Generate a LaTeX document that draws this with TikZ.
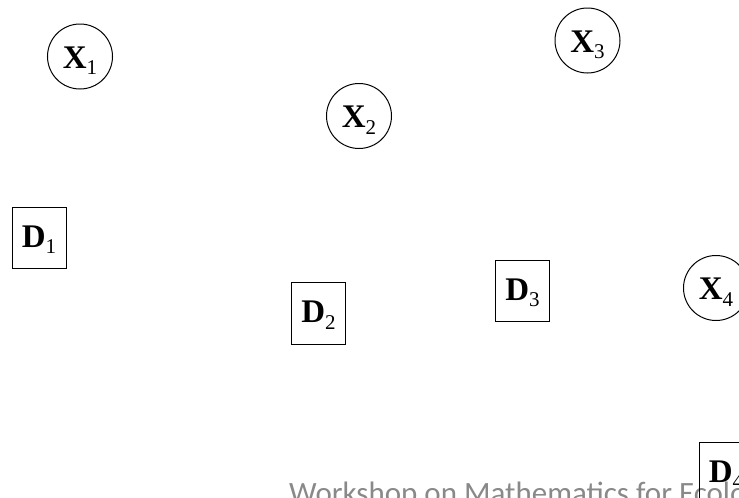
\documentclass[tikz,border=0pt]{standalone}
\usepackage{fontspec}
\setmainfont{Liberation Serif}
\newfontfamily\footfont{Carlito}
\definecolor{footgray}{RGB}{137,137,137}
\newcommand{\varlbl}[2]{\bfseries\fontsize{33}{33}\selectfont #1\raisebox{-6.5pt}{\mdseries\fontsize{21}{21}\selectfont #2}}
\begin{document}
\begin{tikzpicture}[x=1pt,y=-1pt,
  circnode/.style={draw=black,line width=1pt,circle,minimum size=65pt,inner sep=0pt,text depth=0pt,text height=23pt},
  boxnode/.style={draw=black,line width=1pt,rectangle,minimum width=54pt,minimum height=61.5pt,inner sep=0pt,text depth=0pt,text height=18pt},
  foot/.style={anchor=base west,inner sep=0pt,text=footgray,font=\footfont\fontsize{31}{31}\selectfont}]
\useasboundingbox (0,0) rectangle (739,498);
\clip (0,0) rectangle (739,498);
\node[foot] (ft) at (289,503) {Workshop on Mathematics for Ecology};
\node[circnode] (x1) at (80,56.5) {\varlbl{X}{1}};
\node[circnode] (x2) at (359,116) {\varlbl{X}{2}};
\node[circnode] (x3) at (587.5,40.5) {\varlbl{X}{3}};
\node[circnode] (x4) at (716,288) {\varlbl{X}{4}};
\node[boxnode] (d1) at (39,238) {\varlbl{D}{1}};
\node[boxnode] (d2) at (318.5,313.5) {\varlbl{D}{2}};
\node[boxnode] (d3) at (522.5,291) {\varlbl{D}{3}};
\node[boxnode] (d4) at (726,473) {\varlbl{D}{4}};
\end{tikzpicture}
\end{document}
